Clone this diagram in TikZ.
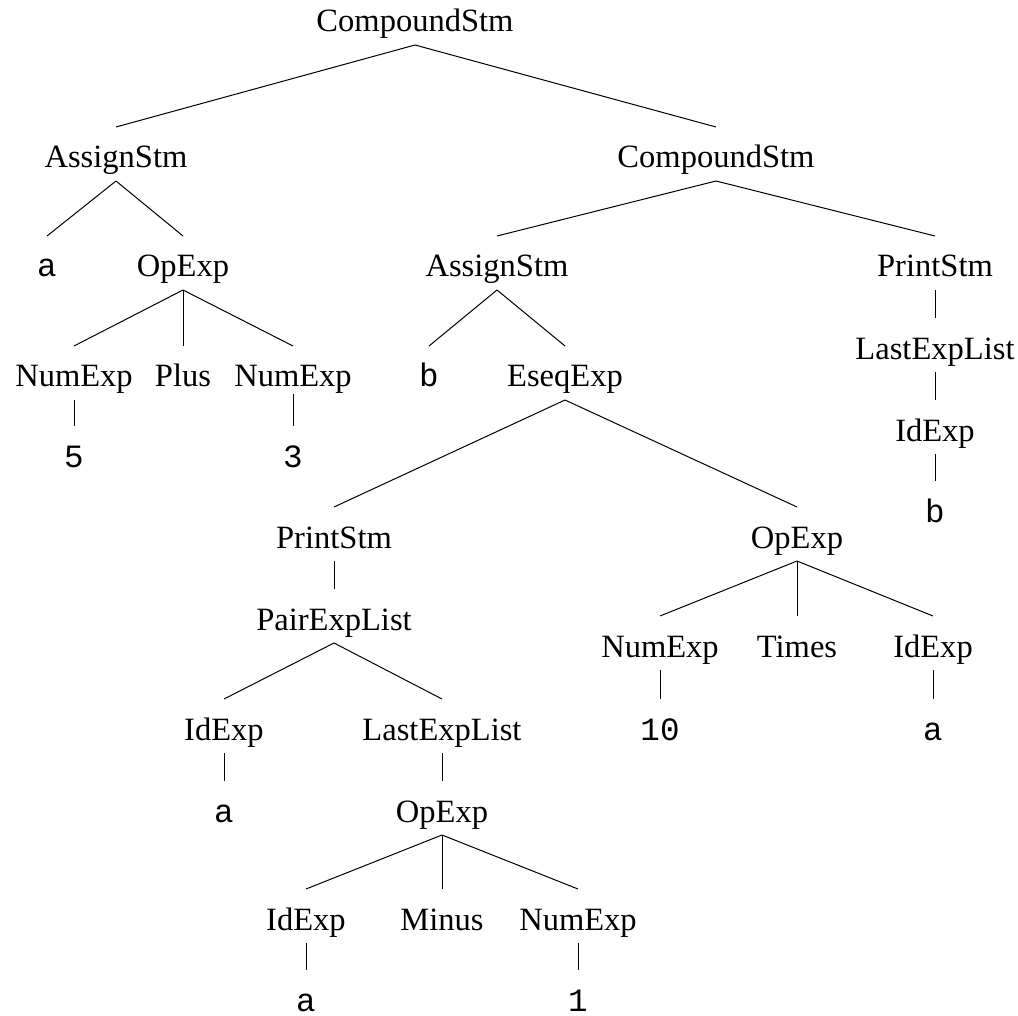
\documentclass[tikz,border=0pt]{standalone}
\usepackage{fontspec}
\setmainfont{Liberation Serif}
\setmonofont{Liberation Mono}
\begin{document}
\begin{tikzpicture}[x=0.75pt,y=-0.75pt,
  tnode/.style={inner sep=0pt, outer sep=0pt, anchor=base, text height=30.75pt, text depth=9.75pt, font=\fontsize{24.4}{29}\selectfont},
  leaf/.style={tnode, font=\fontsize{24.4}{29}\selectfont\ttfamily},
  lastleaf/.style={leaf, text depth=0pt},
  conn/.style={line width=0.75pt, black}]
\useasboundingbox (0,0) rectangle (1018,1016);
% nodes
\node[tnode] (root) at (415,32) {CompoundStm};
\node[tnode] (as1) at (116,168) {AssignStm};
\node[tnode] (cs2) at (716,168) {CompoundStm};
\node[leaf] (la) at (47,277) {a};
\node[tnode] (op1) at (183,277) {OpExp};
\node[tnode] (as2) at (497,277) {AssignStm};
\node[tnode] (ps1) at (935,277) {PrintStm};
\node[tnode] (ne1) at (74,387) {NumExp};
\node[tnode] (plus) at (183,387) {Plus};
\node[tnode] (ne2) at (293,387) {NumExp};
\node[leaf] (lb) at (429,387) {b};
\node[tnode] (es) at (565,387) {EseqExp};
\node[tnode] (lel1) at (935,359) {LastExpList};
\node[leaf] (five) at (74,467) {5};
\node[leaf] (three) at (293,467) {3};
\node[tnode] (id1) at (935,441) {IdExp};
\node[leaf] (lb2) at (935,522) {b};
\node[tnode] (ps2) at (334,548) {PrintStm};
\node[tnode] (op2) at (797,548) {OpExp};
\node[tnode] (pel) at (334,630) {PairExpList};
\node[tnode] (ne3) at (660,657) {NumExp};
\node[tnode] (times) at (797,657) {Times};
\node[tnode] (id2) at (933,657) {IdExp};
\node[leaf] (ten) at (660,740) {10};
\node[leaf] (la3) at (933,740) {a};
\node[tnode] (id3) at (224,740) {IdExp};
\node[tnode] (lel2) at (442,740) {LastExpList};
\node[leaf] (la4) at (224,822) {a};
\node[tnode] (op3) at (442,822) {OpExp};
\node[tnode] (id4) at (306,930) {IdExp};
\node[tnode] (minus) at (442,930) {Minus};
\node[tnode] (ne4) at (578,930) {NumExp};
\node[lastleaf] (la5) at (306,1011) {a};
\node[lastleaf] (one) at (578,1011) {1};
% connectors
\draw[conn] (root.south) -- (as1.north);
\draw[conn] (root.south) -- (cs2.north);
\draw[conn] (as1.south) -- (la.north);
\draw[conn] (as1.south) -- (op1.north);
\draw[conn] (op1.south) -- (ne1.north);
\draw[conn] (op1.south) -- (plus.north);
\draw[conn] (op1.south) -- (ne2.north);
\draw[conn] (ne1.south) -- (five.north);
\draw[conn] ([yshift=4.5pt]ne2.south) -- (three.north);
\draw[conn] (cs2.south) -- (as2.north);
\draw[conn] (cs2.south) -- (ps1.north);
\draw[conn] (ps1.south) -- (lel1.north);
\draw[conn] (lel1.south) -- (id1.north);
\draw[conn] (id1.south) -- (lb2.north);
\draw[conn] (as2.south) -- (lb.north);
\draw[conn] (as2.south) -- (es.north);
\draw[conn] (es.south) -- (ps2.north);
\draw[conn] (es.south) -- (op2.north);
\draw[conn] (ps2.south) -- (pel.north);
\draw[conn] (pel.south) -- (id3.north);
\draw[conn] (pel.south) -- (lel2.north);
\draw[conn] (id3.south) -- (la4.north);
\draw[conn] (lel2.south) -- (op3.north);
\draw[conn] (op3.south) -- (id4.north);
\draw[conn] (op3.south) -- (minus.north);
\draw[conn] (op3.south) -- (ne4.north);
\draw[conn] (id4.south) -- (la5.north);
\draw[conn] (ne4.south) -- (one.north);
\draw[conn] (op2.south) -- (ne3.north);
\draw[conn] (op2.south) -- (times.north);
\draw[conn] (op2.south) -- (id2.north);
\draw[conn] (ne3.south) -- (ten.north);
\draw[conn] (id2.south) -- (la3.north);
\end{tikzpicture}
\end{document}
